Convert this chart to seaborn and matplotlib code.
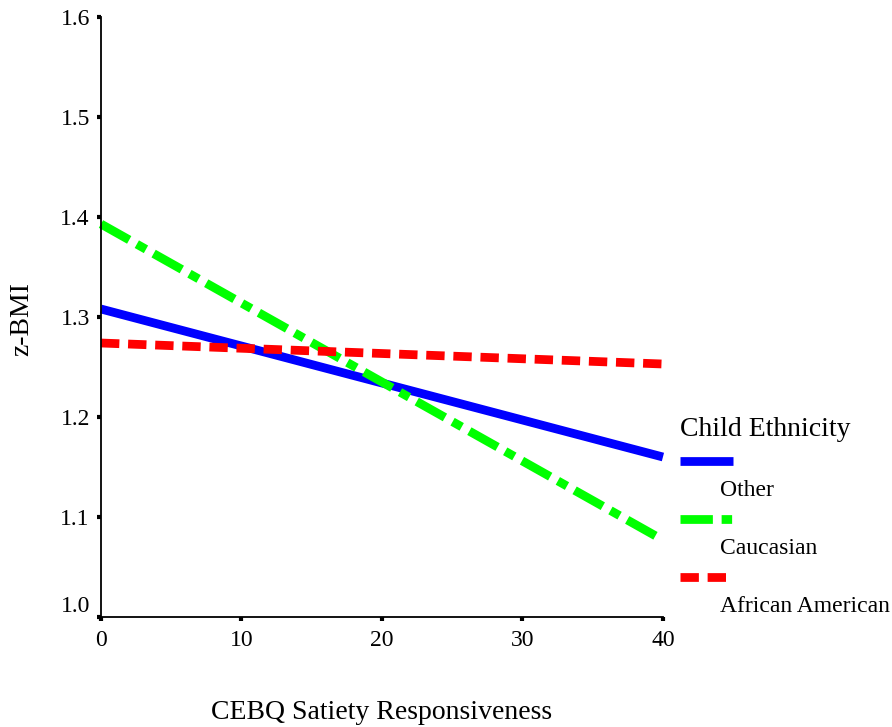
import matplotlib
matplotlib.use("Agg")
import matplotlib.pyplot as plt
from matplotlib.lines import Line2D
import seaborn as sns
import pandas as pd

# data (straight lines, endpoints at 0 and 40)
satiety = [0, 40]
zbmi_other = [1.308, 1.160]
zbmi_caucasian = [1.393, 1.077]
zbmi_african = [1.274, 1.253]

groups = ["Other", "Caucasian", "African American"]
colors = {"Other": "#0000FF", "Caucasian": "#00FF00", "African American": "#FF0000"}
dash_style = {"Other": "", "Caucasian": (3.7, 1.0, 1.2, 1.0), "African American": (2.1, 1.0)}

df = pd.concat([
    pd.DataFrame({"x": satiety, "y": zbmi_other, "eth": "Other"}),
    pd.DataFrame({"x": satiety, "y": zbmi_caucasian, "eth": "Caucasian"}),
    pd.DataFrame({"x": satiety, "y": zbmi_african, "eth": "African American"}),
])

sns.set_style("white")
plt.rcParams["font.family"] = ["Liberation Serif", "DejaVu Serif"]
plt.rcParams["text.color"] = "black"
plt.rcParams["axes.labelcolor"] = "black"
plt.rcParams["xtick.color"] = "black"
plt.rcParams["ytick.color"] = "black"

fig = plt.figure(figsize=(8.92, 7.27), dpi=100)
ax = fig.add_axes([0.1132, 0.1513, 0.63, 0.8253])

sns.lineplot(data=df, x="x", y="y", hue="eth", style="eth", hue_order=groups,
             style_order=groups, palette=colors, dashes=dash_style,
             linewidth=6.3, legend=False, ax=ax)
for ln in ax.get_lines():
    ln.set_dash_capstyle("butt")
    ln.set_solid_capstyle("butt")
    ln.set_clip_on(False)

ax.set_xlim(0, 40)
ax.set_ylim(1.0, 1.6)
ax.set_xticks([0, 10, 20, 30, 40])
ax.set_yticks([1.0, 1.1, 1.2, 1.3, 1.4, 1.5, 1.6])
ax.set_yticklabels([f"{v:.1f}" for v in ax.get_yticks()])
ax.tick_params(direction="out", length=3, width=3, color="black", labelcolor="black",
               labelsize=17, bottom=True, left=True)
ax.tick_params(axis="x", pad=6)
ax.tick_params(axis="y", pad=5)
ax.get_yticklabels()[0].set_va("bottom")
for s in ["top", "right"]:
    ax.spines[s].set_visible(False)
for s in ["left", "bottom"]:
    ax.spines[s].set_color("black")
    ax.spines[s].set_linewidth(1.3)

ax.set_xlabel("CEBQ Satiety Responsiveness", fontsize=20, va="center", color="black")
ax.set_ylabel("z-BMI", fontsize=20, va="center", color="black")
ax.xaxis.set_label_coords(0.5, (617 - 712) / 600)
ax.yaxis.set_label_coords((22 - 101) / 562, 0.497)

# legend drawn by hand: handle line above its label
fig.text(680 / 892, 1 - 430 / 727, "Child Ethnicity", fontsize=20, va="center", ha="left")
ys = [461, 519, 577]
for g, yy in zip(groups, ys):
    yf = 1 - yy / 727
    ln = Line2D([680 / 892, 733 / 892], [yf, yf], transform=fig.transFigure,
                color=colors[g], linewidth=6.3, dash_capstyle="butt", solid_capstyle="butt")
    if dash_style[g]:
        ln.set_dashes(dash_style[g])
    fig.add_artist(ln)
    fig.text(720 / 892, 1 - (yy + 29) / 727, g, fontsize=17, va="center", ha="left")

fig.savefig("out.png", dpi=100)
